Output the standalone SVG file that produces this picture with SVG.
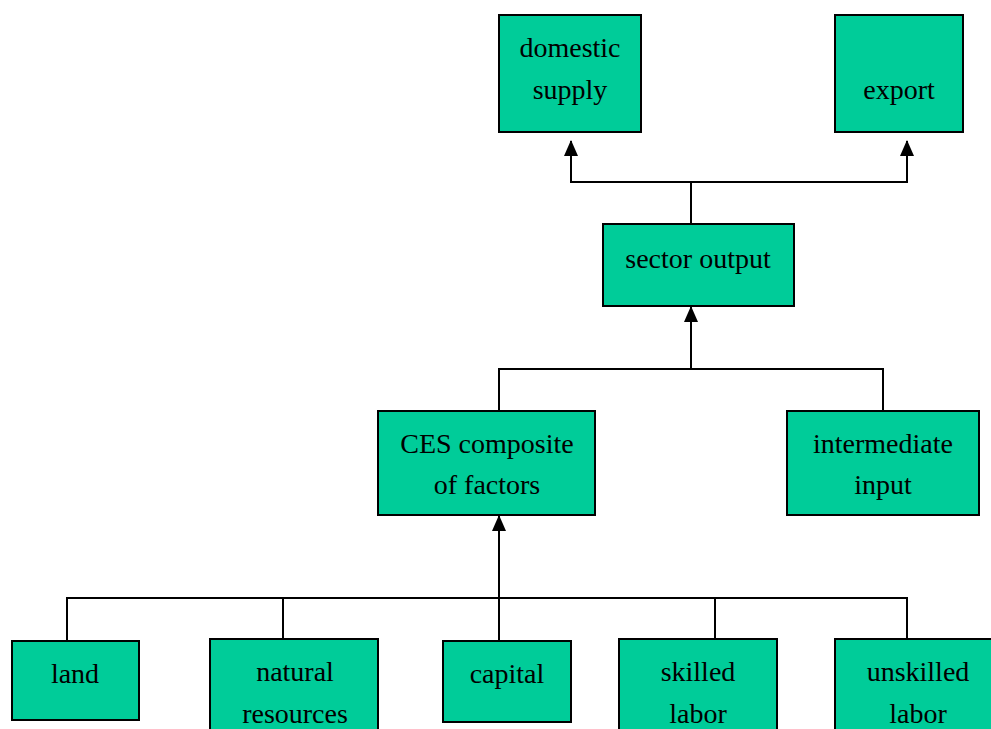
<svg xmlns="http://www.w3.org/2000/svg" width="991" height="729" viewBox="0 0 991 729">
<style>
.box{fill:#00CC99;stroke:#000;stroke-width:2}
.t{font-family:"Liberation Serif",serif;font-size:28px;fill:#000;text-anchor:middle}
.c{fill:none;stroke:#000;stroke-width:2}
</style>
<defs>
<marker id="ah" viewBox="0 0 16 14" refX="15" refY="7" markerWidth="16" markerHeight="14" markerUnits="userSpaceOnUse" orient="auto">
<path d="M0,0 L16,7 L0,14 Z" fill="#000"/>
</marker>
</defs>
<rect width="991" height="729" fill="#fff"/>
<g id="connectors">
<path class="c" d="M691,224 V182 H571 V141" marker-end="url(#ah)"/>
<path class="c" d="M691,182 H907 V141" marker-end="url(#ah)"/>
<path class="c" d="M499,411 V369 H883 V411"/>
<path class="c" d="M691,369 V307" marker-end="url(#ah)"/>
<path class="c" d="M67,641 V598 H907 V639"/>
<path class="c" d="M283,598 V639"/>
<path class="c" d="M715,598 V639"/>
<path class="c" d="M499,641 V516" marker-end="url(#ah)"/>
</g>
<g id="domestic_supply"><rect class="box" x="499" y="15" width="142" height="117"/><text class="t" x="570" y="57">domestic</text><text class="t" x="570" y="99">supply</text></g>
<g id="export"><rect class="box" x="835" y="15" width="128" height="117"/><text class="t" x="899" y="99">export</text></g>
<g id="sector_output"><rect class="box" x="603" y="224" width="191" height="82"/><text class="t" x="698" y="268">sector output</text></g>
<g id="ces"><rect class="box" x="378" y="411" width="217" height="104"/><text class="t" x="487" y="453">CES composite</text><text class="t" x="487" y="494">of factors</text></g>
<g id="intermediate"><rect class="box" x="787" y="411" width="192" height="104"/><text class="t" x="883" y="453">intermediate</text><text class="t" x="883" y="494">input</text></g>
<g id="land"><rect class="box" x="12" y="641" width="127" height="79"/><text class="t" x="75" y="683">land</text></g>
<g id="natural_resources"><rect class="box" x="210" y="639" width="168" height="100"/><text class="t" x="295" y="681">natural</text><text class="t" x="295" y="723">resources</text></g>
<g id="capital"><rect class="box" x="443" y="641" width="128" height="81"/><text class="t" x="507" y="683">capital</text></g>
<g id="skilled_labor"><rect class="box" x="619" y="639" width="158" height="100"/><text class="t" x="698" y="681">skilled</text><text class="t" x="698" y="723">labor</text></g>
<g id="unskilled_labor"><rect class="box" x="835" y="639" width="170" height="100"/><text class="t" x="918" y="681">unskilled</text><text class="t" x="918" y="723">labor</text></g>
</svg>
